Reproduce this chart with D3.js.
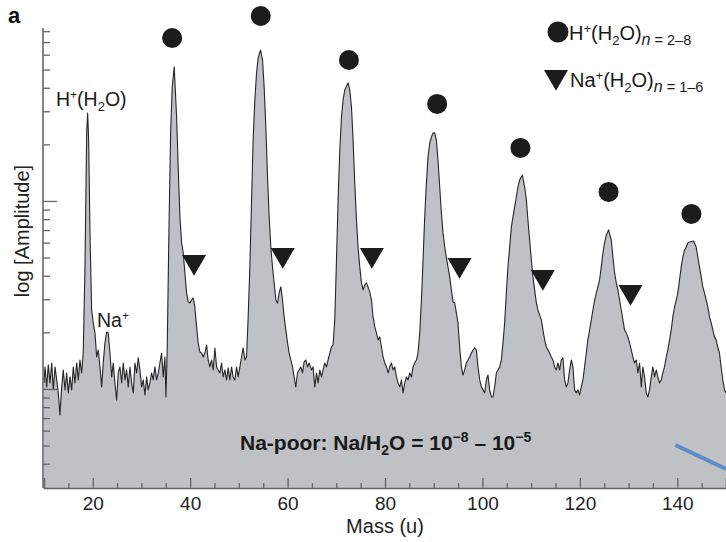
<!DOCTYPE html>
<html>
<head>
<meta charset="utf-8">
<script src="https://cdn.jsdelivr.net/npm/d3@7"></script>
<style>
  body { margin: 0; background: #fff; }
  svg { display: block; font-family: "Liberation Sans", Arial, sans-serif; }
</style>
</head>
<body>
<div id="chart"></div>
<script>
// Spectrum: [mass (u), log10 amplitude]
const spectrum = [
  [10.0, 0.032], [10.21, 0.117], [10.55, 0.011], [10.88, 0.128], [11.23, 0.032], [11.58, 0.138],
  [11.91, -0.005], [12.26, 0.117], [12.61, 0.048], [12.93, -0.021], [13.28, -0.138], [13.63, 0.011],
  [13.96, 0.101], [14.31, -0.005], [14.66, 0.085], [14.98, -0.021], [15.33, 0.064], [15.68, -0.005],
  [16.01, 0.117], [16.36, 0.032], [16.71, 0.138], [17.04, 0.048], [17.38, 0.154], [17.73, 0.085],
  [18.06, 0.197], [18.41, 0.649], [18.76, 1.362], [18.96, 1.468], [19.17, 1.324], [19.44, 0.830],
  [19.78, 0.420], [20.11, 0.351], [20.46, 0.298], [20.81, 0.170], [21.14, 0.207], [21.49, 0.117],
  [21.84, 0.011], [22.16, 0.138], [22.51, 0.245], [22.86, 0.303], [23.19, 0.298], [23.54, 0.191],
  [23.89, 0.064], [24.22, 0.138], [24.56, 0.032], [24.91, -0.059], [25.24, 0.085], [25.59, 0.117],
  [25.94, 0.032], [26.27, 0.138], [26.62, 0.048], [26.96, 0.101], [27.29, 0.011], [27.64, 0.117],
  [27.99, 0.032], [28.32, -0.021], [28.67, 0.138], [29.02, 0.085], [29.34, 0.165], [29.69, 0.101],
  [30.04, 0.011], [30.37, 0.048], [30.72, -0.032], [31.07, 0.064], [31.39, -0.005], [31.74, 0.032],
  [32.09, 0.085], [32.42, 0.048], [32.77, 0.117], [33.12, 0.048], [33.45, 0.085], [33.79, 0.138],
  [34.14, 0.191], [34.47, 0.064], [34.82, 0.170], [35.03, -0.043], [35.29, 0.207], [35.64, 0.830],
  [35.99, 1.362], [36.32, 1.606], [36.73, 1.713],
  [37.22, 1.447], [37.55, 1.181], [37.90, 0.915], [38.25, 0.777], [38.58, 0.723], [38.92, 0.617],
  [39.27, 0.511], [39.60, 0.463], [39.95, 0.457], [40.30, 0.473], [40.63, 0.484], [40.97, 0.436],
  [41.32, 0.330], [41.65, 0.245], [42.00, 0.197], [42.35, 0.191], [42.68, 0.170], [43.03, 0.191],
  [43.38, 0.234], [43.70, 0.154], [44.05, 0.117], [44.40, 0.154], [44.73, 0.101], [45.08, 0.218],
  [45.43, 0.117], [45.75, 0.101], [46.10, 0.085], [46.45, 0.138], [46.78, 0.064], [47.13, 0.101],
  [47.48, 0.048], [47.81, 0.112], [48.15, 0.048], [48.50, 0.117], [48.83, 0.064], [49.18, 0.048],
  [49.53, 0.117], [49.86, 0.064], [50.21, 0.117], [50.55, 0.170], [50.88, 0.218], [51.23, 0.154],
  [51.58, 0.170], [51.91, 0.383], [52.26, 0.649], [52.61, 1.005], [52.93, 1.324], [53.28, 1.537],
  [53.63, 1.681], [53.96, 1.761], [54.45, 1.803], [54.86, 1.750], [55.19, 1.606], [55.54, 1.394],
  [55.89, 1.128], [56.22, 0.915], [56.56, 0.755], [56.91, 0.649], [57.24, 0.564], [57.59, 0.473],
  [57.94, 0.457], [58.27, 0.511], [58.62, 0.543], [58.96, 0.473], [59.29, 0.383], [59.64, 0.314],
  [59.99, 0.245], [60.32, 0.191], [60.67, 0.154], [61.02, 0.117], [61.34, 0.064], [61.69, 0.011],
  [62.04, 0.085], [62.37, 0.101], [62.72, 0.117], [63.07, 0.085], [63.40, 0.144], [63.74, 0.154],
  [64.09, 0.117], [64.42, 0.138],
  [64.56, 0.128], [64.91, 0.101], [65.24, 0.117], [65.59, 0.011], [65.94, 0.085], [66.27, 0.032],
  [66.62, 0.101], [66.96, 0.064], [67.29, 0.101], [67.64, 0.138], [67.99, 0.117], [68.32, 0.154],
  [68.67, 0.191], [69.02, 0.223], [69.34, 0.234], [69.69, 0.367], [70.04, 0.686], [70.37, 1.005],
  [70.72, 1.271], [71.07, 1.447], [71.39, 1.537], [71.74, 1.590], [72.42, 1.628], [72.77, 1.590],
  [73.12, 1.500], [73.45, 1.324], [73.79, 1.096], [74.14, 0.899], [74.47, 0.755], [74.82, 0.649],
  [75.17, 0.564], [75.50, 0.527], [75.85, 0.553], [76.19, 0.564], [76.52, 0.543], [76.87, 0.516],
  [77.22, 0.473], [77.55, 0.383], [77.90, 0.330], [78.25, 0.298], [78.58, 0.261], [78.92, 0.277],
  [79.27, 0.223], [79.60, 0.170], [79.95, 0.138], [80.30, 0.117], [80.63, 0.085], [80.97, 0.117],
  [81.32, 0.138], [81.65, 0.101], [82.00, 0.117], [82.35, 0.064], [82.68, 0.032], [83.03, 0.011],
  [83.38, 0.048], [83.70, -0.021], [84.05, 0.032], [84.40, 0.064], [84.73, 0.048], [85.08, 0.085],
  [85.43, 0.064], [85.75, 0.117], [86.10, 0.138], [86.45, 0.154], [86.78, 0.191], [87.13, 0.298],
  [87.48, 0.473], [87.81, 0.686], [88.15, 0.915], [88.50, 1.096], [88.83, 1.234], [89.18, 1.309],
  [89.53, 1.340], [89.86, 1.362], [90.21, 1.362],
  [90.55, 1.324], [90.88, 1.218], [91.23, 1.074], [91.58, 0.936], [91.91, 0.830], [92.26, 0.755],
  [92.61, 0.697], [92.93, 0.649], [93.28, 0.596], [93.63, 0.527], [93.96, 0.463], [94.31, 0.457],
  [94.66, 0.404], [94.98, 0.351], [95.33, 0.223], [95.68, 0.117], [96.01, 0.074], [96.36, 0.101],
  [96.71, 0.138], [97.04, 0.154], [97.38, 0.170], [97.73, 0.191], [98.06, 0.207], [98.41, 0.218],
  [98.76, 0.207], [99.09, 0.117], [99.44, 0.048], [99.78, 0.011], [100.11, -0.005], [100.46, -0.021],
  [100.81, 0.048], [101.14, 0.074], [101.49, -0.005], [101.84, -0.043], [102.16, -0.043], [102.51, 0.011],
  [102.86, 0.085], [103.19, 0.101], [103.54, 0.117], [103.89, 0.154], [104.22, 0.245], [104.56, 0.351],
  [104.91, 0.511], [105.24, 0.649], [105.59, 0.755], [105.94, 0.862], [106.27, 0.915], [106.62, 0.968],
  [106.96, 1.021], [107.29, 1.074], [107.64, 1.112], [108.20, 1.138], [108.67, 1.074], [109.02, 1.005],
  [109.34, 0.899], [109.69, 0.793], [110.04, 0.686], [110.37, 0.596], [110.72, 0.527], [111.07, 0.457],
  [111.39, 0.420], [111.74, 0.394], [112.09, 0.367], [112.42, 0.314], [112.77, 0.261], [113.12, 0.223],
  [113.45, 0.207], [113.79, 0.191], [114.14, 0.170], [114.47, 0.154], [114.82, 0.117], [115.17, 0.101],
  [115.50, 0.138], [115.85, 0.101], [116.19, 0.154], [116.52, 0.165], [116.87, 0.048], [117.22, 0.011],
  [117.55, 0.032], [117.90, 0.101], [118.25, 0.154], [118.58, 0.117], [118.92, -0.005], [119.27, -0.021],
  [119.60, -0.005], [119.95, -0.032], [120.30, 0.011], [120.63, 0.048], [120.97, 0.117], [121.32, 0.191],
  [121.65, 0.261], [122.00, 0.314], [122.35, 0.367], [122.68, 0.420], [123.03, 0.473], [123.38, 0.511],
  [123.70, 0.543], [124.05, 0.580], [124.40, 0.649], [124.73, 0.723], [125.08, 0.777], [125.43, 0.819],
  [125.90, 0.846], [126.45, 0.793], [126.78, 0.702], [127.13, 0.617], [127.48, 0.564], [127.81, 0.527],
  [128.15, 0.473], [128.50, 0.420], [128.83, 0.367], [129.18, 0.314], [129.53, 0.298], [129.86, 0.277],
  [130.21, 0.245], [130.55, 0.207], [130.88, 0.170], [131.23, 0.138], [131.58, 0.154], [131.91, 0.085],
  [132.26, 0.138], [132.61, 0.011], [132.93, 0.117], [133.28, 0.064], [133.63, -0.021], [133.96, -0.043],
  [134.31, -0.005], [134.66, 0.064], [134.98, 0.117], [135.33, 0.064], [135.68, 0.101], [136.01, 0.064],
  [136.36, 0.032], [136.71, 0.048], [137.04, 0.085], [137.38, 0.117], [137.73, 0.170], [138.06, 0.207],
  [138.41, 0.261], [138.76, 0.314], [139.09, 0.383], [139.44, 0.436], [139.79, 0.473], [140.11, 0.511],
  [140.46, 0.580], [140.81, 0.649], [141.14, 0.702], [141.49, 0.739], [141.84, 0.755], [142.16, 0.777],
  [142.51, 0.782], [143.33, 0.787], [143.88, 0.755], [144.21, 0.702], [144.56, 0.649], [144.91, 0.596],
  [145.24, 0.543], [145.59, 0.511], [145.94, 0.473], [146.27, 0.436], [146.62, 0.383], [146.96, 0.351],
  [147.29, 0.314], [147.64, 0.277], [147.98, 0.261], [148.31, 0.223], [148.66, 0.191], [149.00, 0.117],
  [149.35, 0.048], [149.69, -0.005], [150.0, -0.020]
];

// Cluster markers (mass, log amplitude of marker centre)
const circleMass = [36.3, 54.5, 72.6, 90.7, 107.8, 125.9, 142.9];
const circleLogAmp = [1.867, 1.984, 1.750, 1.516, 1.282, 1.048, 0.931];
const triangleMass = [40.8, 59.0, 77.3, 95.3, 112.4, 130.4];
const triangleLogAmp = [0.676, 0.713, 0.713, 0.660, 0.596, 0.516];

// Axis ticks
const xMajorTicks = [20, 40, 60, 80, 100, 120, 140];
const xMinorTicks = [15, 25, 30, 35, 45, 50, 55, 65, 70, 75, 85, 90, 95, 105, 110, 115, 125, 130, 135, 145];
const yDecades = [-1, 0, 1];
const yMultipliers = [1, 2, 3, 4, 5, 6, 7, 8, 9];

// Blue line fragment at lower right: [mass, log amplitude]
const blueStroke = [[139.6, -0.298], [150, -0.426]];

const width = 726;
const height = 542;

const svg = d3.select("#chart")
    .append("svg")
    .attr("width", width)
    .attr("height", height);

const x = d3.scaleLinear().domain([10, 150]).range([44, 726]);
const y = d3.scaleLinear().domain([-0.527, 1.92]).range([488, 28]);

// Filled spectrum
const area = d3.area()
    .x(d => x(d[0]))
    .y0(y(-0.527))
    .y1(d => y(d[1]));

const line = d3.line()
    .x(d => x(d[0]))
    .y(d => y(d[1]));

svg.append("path")
    .datum(spectrum)
    .attr("d", area)
    .attr("fill", "#c0c1c5");

svg.append("path")
    .datum(spectrum)
    .attr("d", line)
    .attr("fill", "none")
    .attr("stroke", "#262626")
    .attr("stroke-width", 1.1)
    .attr("stroke-linejoin", "round");

// Y axis: log ticks inside the plot
const yMinor = [], yMajor = [];
yDecades.forEach(k => yMultipliers.forEach(n => {
    const v = k + Math.log10(n);
    if (v > -0.5 && v < 1.92) (n === 1 ? yMajor : yMinor).push(v);
}));

const axisColor = "#666";

svg.append("g")
    .attr("transform", `translate(${x(10) - 1},0)`)
    .call(d3.axisRight(y).tickValues(yMinor).tickSize(7).tickFormat(""))
    .call(g => g.select(".domain").remove())
    .call(g => g.selectAll("line").attr("stroke", axisColor).attr("stroke-width", 1.3));

svg.append("g")
    .attr("transform", `translate(${x(10) - 1},0)`)
    .call(d3.axisRight(y).tickValues(yMajor).tickSize(14).tickFormat(""))
    .call(g => g.select(".domain").remove())
    .call(g => g.selectAll("line").attr("stroke", axisColor).attr("stroke-width", 1.3));

svg.append("line")
    .attr("x1", x(10) - 1).attr("x2", x(10) - 1)
    .attr("y1", y(1.92)).attr("y2", y(-0.527))
    .attr("stroke", axisColor)
    .attr("stroke-width", 1.6);

// X axis: ticks point up into the plot
svg.append("g")
    .attr("transform", `translate(0,${y(-0.527)})`)
    .call(d3.axisBottom(x).tickValues(xMinorTicks).tickSize(-5).tickFormat(""))
    .call(g => g.select(".domain").remove())
    .call(g => g.selectAll("line").attr("stroke", axisColor).attr("stroke-width", 1.3));

const xAxis = svg.append("g")
    .attr("transform", `translate(0,${y(-0.527)})`)
    .call(d3.axisBottom(x).tickValues(xMajorTicks).tickSize(-10).tickPadding(9))
    .call(g => g.select(".domain").attr("stroke", axisColor).attr("stroke-width", 1.6))
    .call(g => g.selectAll("line").attr("stroke", axisColor).attr("stroke-width", 1.3));

xAxis.selectAll("text")
    .attr("font-size", 19)
    .attr("font-family", "Liberation Sans, Arial, sans-serif")
    .attr("fill", "#222");

// Axis titles
svg.append("text")
    .attr("x", 385)
    .attr("y", 533)
    .attr("text-anchor", "middle")
    .attr("font-size", 20)
    .attr("fill", "#222")
    .text("Mass (u)");

svg.append("text")
    .attr("transform", "translate(29,231) rotate(-90)")
    .attr("text-anchor", "middle")
    .attr("font-size", 20)
    .attr("fill", "#222")
    .text("log [Amplitude]");

// Markers
svg.selectAll("circle.cluster")
    .data(circleMass)
    .join("circle")
    .attr("class", "cluster")
    .attr("cx", d => x(d))
    .attr("cy", (d, i) => y(circleLogAmp[i]))
    .attr("r", 10)
    .attr("fill", "#1c1c1c");

const tri = d3.symbol().type(d3.symbolTriangle).size(250);

svg.selectAll("path.sodium")
    .data(triangleMass)
    .join("path")
    .attr("class", "sodium")
    .attr("d", tri)
    .attr("transform", (d, i) => `translate(${x(d)},${y(triangleLogAmp[i])}) rotate(180)`)
    .attr("fill", "#1c1c1c");

// Rich text helper: parts = [text, baseline shift (px, down +), font size, style]
function richText(parent, px, py, parts, size, weight) {
    const t = parent.append("text")
        .attr("x", px)
        .attr("y", py)
        .attr("font-size", size)
        .attr("font-weight", weight || "normal")
        .attr("fill", "#1a1a1a");
    let prev = 0;
    parts.forEach(([str, shift, fs, style]) => {
        t.append("tspan")
            .attr("dy", shift - prev)
            .attr("font-size", fs || null)
            .attr("font-style", style || null)
            .text(str);
        prev = shift;
    });
    return t;
}

// Peak labels
richText(svg, 56, 106, [["H", 0], ["+", -7, 12], ["(H", 0], ["2", 5, 13], ["O)", 0]], 19.5);
richText(svg, 97, 327, [["Na", 0], ["+", -7, 12]], 19.5);

// Legend
svg.append("circle").attr("cx", 558).attr("cy", 32).attr("r", 10.5).attr("fill", "#1c1c1c");
richText(svg, 569, 40, [["H", 0], ["+", -7, 13], ["(H", 0], ["2", 5, 13], ["O)", 0], ["n", 5, 16, "italic"], [" = 2–8", 5, 14.5]], 20);

svg.append("path")
    .attr("d", tri)
    .attr("transform", "translate(556,77) rotate(180)")
    .attr("fill", "#1c1c1c");
richText(svg, 570, 87, [["Na", 0], ["+", -7, 13], ["(H", 0], ["2", 5, 13], ["O)", 0], ["n", 5, 16, "italic"], [" = 1–6", 5, 14.5]], 20);

// Sample annotation
richText(svg, 240, 450, [["Na-poor: Na/H", 0], ["2", 5, 14], ["O = 10", 0], ["−8", -8, 14], [" – 10", 0], ["−5", -8, 14]], 21, "bold");

// Panel letter
svg.append("text")
    .attr("x", 8)
    .attr("y", 23)
    .attr("font-size", 22)
    .attr("font-weight", "bold")
    .attr("fill", "#111")
    .text("a");

// Blue stroke at lower right
svg.append("path")
    .datum(blueStroke)
    .attr("d", line)
    .attr("stroke", "#5b8dc8")
    .attr("stroke-width", 4)
    .attr("fill", "none");
</script>
</body>
</html>
